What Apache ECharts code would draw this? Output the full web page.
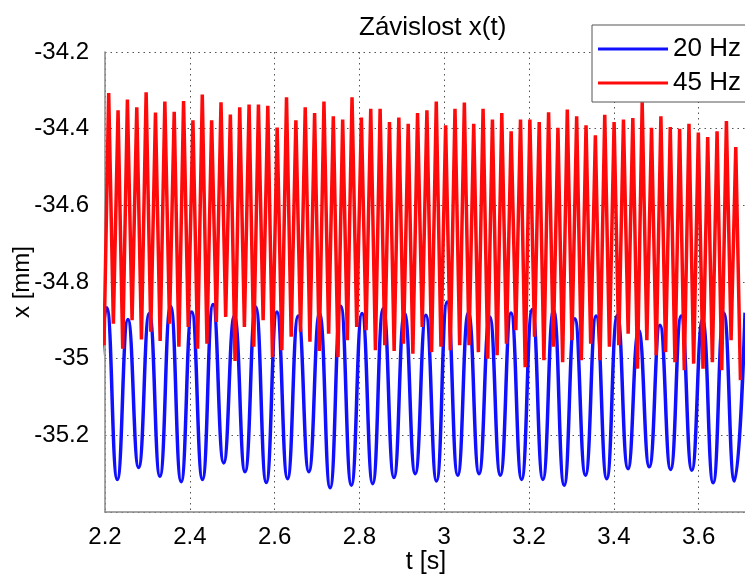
<!DOCTYPE html>
<html>
<head>
<meta charset="utf-8">
<script src="https://cdn.jsdelivr.net/npm/echarts@6/dist/echarts.min.js"></script>
<style>
  html, body { margin: 0; padding: 0; background: #fff; }
  #chart { width: 745px; height: 575px; }
</style>
</head>
<body>
<div id="chart"></div>
<script>
// ticks
var xTicks = [2.2, 2.4, 2.6, 2.8, 3, 3.2, 3.4, 3.6]
var yTicks = [-35.4, -35.2, -35, -34.8, -34.6, -34.4, -34.2]

// 20 Hz - first peak time, period, value before first peak, peaks and troughs
var blueT0 = 2.204
var bluePeriod = 0.05018
var blueStart = -35.30
var bluePeaks = [-34.867, -34.898, -34.882, -34.863, -34.878, -34.859, -34.889, -34.865, -34.878, -34.889,
                 -34.882, -34.863, -34.882, -34.869, -34.882, -34.887, -34.852, -34.880, -34.891, -34.881,
                 -34.872, -34.874, -34.896, -34.889, -34.887, -34.926, -34.913, -34.889, -34.898, -34.881, -34.88]
var blueTroughs = [-35.315, -35.284, -35.307, -35.321, -35.315, -35.272, -35.295, -35.323, -35.313, -35.295,
                   -35.337, -35.330, -35.326, -35.310, -35.300, -35.319, -35.304, -35.300, -35.304, -35.315,
                   -35.315, -35.330, -35.304, -35.313, -35.287, -35.282, -35.289, -35.291, -35.324, -35.319]

// 45 Hz
var redT0 = 2.2087
var redPeriod = 0.022072
var redStart = -34.965
var redPeaks = [-34.307, -34.352, -34.324, -34.344, -34.305, -34.358, -34.329, -34.356, -34.328, -34.378,
                -34.311, -34.378, -34.331, -34.363, -34.344, -34.337, -34.337, -34.340, -34.397, -34.318,
                -34.378, -34.344, -34.359, -34.329, -34.368, -34.376, -34.318, -34.371, -34.348, -34.348,
                -34.383, -34.371, -34.387, -34.359, -34.352, -34.329, -34.391, -34.348, -34.332, -34.387,
                -34.348, -34.376, -34.359, -34.407, -34.376, -34.376, -34.383, -34.357, -34.398, -34.350,
                -34.368, -34.391, -34.417, -34.364, -34.383, -34.376, -34.372, -34.331, -34.398, -34.368,
                -34.396, -34.400, -34.387, -34.410, -34.422, -34.407, -34.380, -34.448]
var redTroughs = [-34.909, -34.974, -34.900, -34.950, -34.930, -34.954, -34.909, -34.969, -34.917, -34.974,
                  -34.961, -34.904, -34.891, -35.006, -34.917, -34.969, -34.900, -34.996, -34.978, -34.943,
                  -34.930, -34.956, -34.980, -34.935, -34.996, -34.952, -34.917, -34.926, -34.978, -34.965,
                  -34.980, -34.961, -34.987, -34.917, -34.983, -34.969, -34.978, -34.965, -34.965, -34.983,
                  -35.000, -34.991, -34.961, -34.926, -35.022, -34.943, -35.004, -34.969, -35.009, -34.952,
                  -35.004, -34.961, -35.004, -34.969, -34.965, -34.935, -35.026, -34.952, -34.991, -34.983,
                  -35.009, -35.030, -35.013, -35.026, -35.009, -35.030, -34.952, -35.056]

// peak, trough, peak, trough ... spaced half a period apart
function buildWave(t0, period, start, peaks, troughs) {
    var pts = [[t0 - period / 2, start]]
    for (var i = 0; i < peaks.length; i++) {
        pts.push([t0 + i * period, peaks[i]])
        if (i < troughs.length) pts.push([t0 + i * period + period / 2, troughs[i]])
    }
    return pts
}

var font = 'Liberation Sans, Arial, sans-serif'
var gridLine = { show: true, lineStyle: { color: '#555', width: 1, type: [1.5, 4] } }

var chart = echarts.init(document.getElementById('chart'), null, { renderer: 'canvas' })
var option = {
    backgroundColor: '#fff',
    animation: false,
    title: {
        text: 'Závislost x(t)',
        left: 354,
        top: 10,
        textStyle: { fontFamily: font, fontSize: 26, fontWeight: 'normal', color: '#000' }
    },
    legend: {
        orient: 'vertical',
        left: 592,
        top: 25,
        padding: [11, 30, 6, 6],
        itemGap: 8,
        itemWidth: 70,
        itemHeight: 3,
        icon: 'rect',
        backgroundColor: '#fff',
        borderColor: '#555',
        borderWidth: 1,
        textStyle: { fontFamily: font, fontSize: 26, color: '#000' },
        data: ['20 Hz', '45 Hz']
    },
    grid: { left: 105, right: -2, top: 52, bottom: 63, outerBoundsMode: 'none', containLabel: false },
    xAxis: {
        type: 'value',
        min: xTicks[0],
        max: 3.714,
        interval: 0.2,
        name: 't [s]',
        nameLocation: 'middle',
        nameGap: 38,
        nameMoveOverlap: false,
        nameTextStyle: { fontFamily: font, fontSize: 25, color: '#000' },
        axisLine: { show: true, lineStyle: { color: '#888', width: 1.5 } },
        axisTick: { show: false },
        axisLabel: { fontFamily: font, fontSize: 24, color: '#000', margin: 13, showMaxLabel: false },
        splitLine: gridLine
    },
    yAxis: {
        type: 'value',
        min: yTicks[0],
        max: yTicks[yTicks.length - 1],
        interval: 0.2,
        name: 'x [mm]',
        nameLocation: 'middle',
        nameGap: 71,
        nameMoveOverlap: false,
        nameTextStyle: { fontFamily: font, fontSize: 24, color: '#000' },
        axisLine: { show: true, lineStyle: { color: '#888', width: 1.5 } },
        axisTick: { show: false },
        axisLabel: { fontFamily: font, fontSize: 24, color: '#000', margin: 16, showMinLabel: false },
        splitLine: gridLine
    },
    series: [
        {
            name: '20 Hz',
            type: 'line',
            data: buildWave(blueT0, bluePeriod, blueStart, bluePeaks, blueTroughs),
            smooth: 0.5,
            showSymbol: false,
            color: '#1010ff',
            lineStyle: { width: 3.5 }
        },
        {
            name: '45 Hz',
            type: 'line',
            data: buildWave(redT0, redPeriod, redStart, redPeaks, redTroughs),
            showSymbol: false,
            color: '#ff0a0a',
            lineStyle: { width: 3.5 }
        }
    ]
}
chart.setOption(option)
</script>
</body>
</html>
